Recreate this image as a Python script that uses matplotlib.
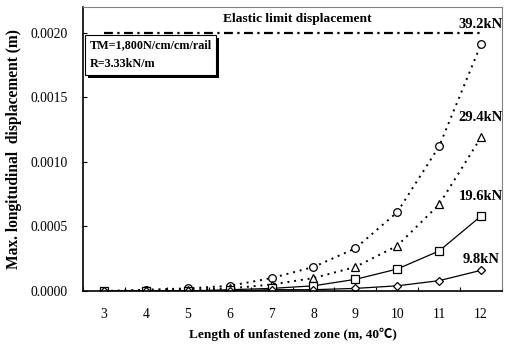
import numpy as np
import matplotlib
matplotlib.use('Agg')
import matplotlib.pyplot as plt
from matplotlib.patches import Rectangle

# data
length = [3, 4, 5, 6, 7, 8, 9, 10, 11, 12]
d_392 = [0.0, 0.00001, 0.00002, 0.00004, 0.0001, 0.000186, 0.00033, 0.00061, 0.00112, 0.00191]
d_294 = [0.0, 0.0, 0.00001, 0.00002, 0.00005, 0.0001, 0.000186, 0.00035, 0.00067, 0.00119]
d_196 = [0.0, 0.0, 0.0, 0.00001, 0.00002, 0.00004, 0.00009, 0.00017, 0.00031, 0.00058]
d_98 = [0.0, 0.0, 0.0, 0.0, 0.00001, 0.00001, 0.00002, 0.00004, 0.00008, 0.00016]
elastic_limit = 0.002
loads = ['39.2kN', '29.4kN', '19.6kN', '9.8kN']

plt.rcParams['font.family'] = ['Liberation Serif', 'Noto Sans CJK JP']
plt.rcParams['font.size'] = 9

fig = plt.figure(figsize=(5.07, 3.46), dpi=100)
ax = fig.add_axes([0.164, 0.159, 0.826, 0.821])

mk = dict(markersize=5.5, markerfacecolor='white', markeredgecolor='k', markeredgewidth=0.9, color='k')
ax.plot(length, d_392, linestyle=(0, (1, 2.5)), lw=1.4, marker='o', **mk)
ax.plot(length, d_294, linestyle=(0, (1, 2.5)), lw=1.4, marker='^', **mk)
ax.plot(length, d_196, linestyle='-', lw=0.9, marker='s', **mk)
ax.plot(length, d_98, linestyle='-', lw=0.9, marker='D', markersize=4.5, markerfacecolor='white',
        markeredgecolor='k', markeredgewidth=0.9, color='k')

# elastic limit
ax.plot([length[0], length[-1]], [elastic_limit, elastic_limit], color='k', lw=1.6,
        linestyle=(0, (4, 2, 1, 2)))
ax.text(7.61, 0.00211, 'Elastic limit displacement', ha='center', va='center',
        fontweight='bold', fontsize=9.7)

# load labels
label_y = [d_392[-1], d_294[-1], d_196[-1], d_98[-1]]
offs = [0.00015, 0.00015, 0.00015, 0.00008]
for lab, yv, o in zip(loads, label_y, offs):
    ax.text(12.0, yv + o, lab, ha='center', va='center', fontweight='bold', fontsize=10.5)

# text box, shadow drawn after layout
box = ax.text(2.65, 0.00195, 'TM=1,800N/cm/cm/rail\nR=3.33kN/m', ha='left', va='top',
              fontweight='bold', fontsize=8.7, linespacing=1.8, zorder=5,
              bbox=dict(boxstyle='square,pad=0.35', facecolor='white', edgecolor='k', lw=0.8))

ax.set_xlim(2.5, 12.5)
ax.set_ylim(0, 0.0022)
ax.set_xticks(length)
ax.set_xticklabels([str(v) for v in length])
ax.set_xticks(np.arange(2.5, 12.6, 1.0), minor=True)
ax.tick_params(axis='x', which='major', length=0, pad=12, labelsize=9.8)
ax.tick_params(axis='x', which='minor', direction='in', length=3, width=0.8)
ax.set_yticks([0, 0.0005, 0.001, 0.0015, 0.002])
ax.set_yticklabels(['0.0000', '0.0005', '0.0010', '0.0015', '0.0020'])
ax.tick_params(axis='y', direction='in', length=3, width=0.8, labelsize=9.8, pad=11)

for s in ['left', 'bottom']:
    ax.spines[s].set_linewidth(1.2)
for s in ['top', 'right']:
    ax.spines[s].set_linewidth(0.8)
    ax.spines[s].set_color('#808080')

ax.set_xlabel('Length of unfastened zone (m, 40\u2103)', fontweight='bold', fontsize=9.6, labelpad=5)
ax.set_ylabel('Max. longitudinal  displacement (m)', fontweight='bold', fontsize=11.2, labelpad=6)

# shadow behind the text box
fig.canvas.draw()
bb = box.get_bbox_patch().get_window_extent()
fig.add_artist(Rectangle((bb.x0 + 3, bb.y0 - 3), bb.width, bb.height, transform=None,
                         facecolor='k', edgecolor='none', zorder=4))
fig.artists[-1].set_zorder(1)
ax.set_zorder(2)
ax.patch.set_alpha(0)

fig.savefig('out.png', dpi=100)
